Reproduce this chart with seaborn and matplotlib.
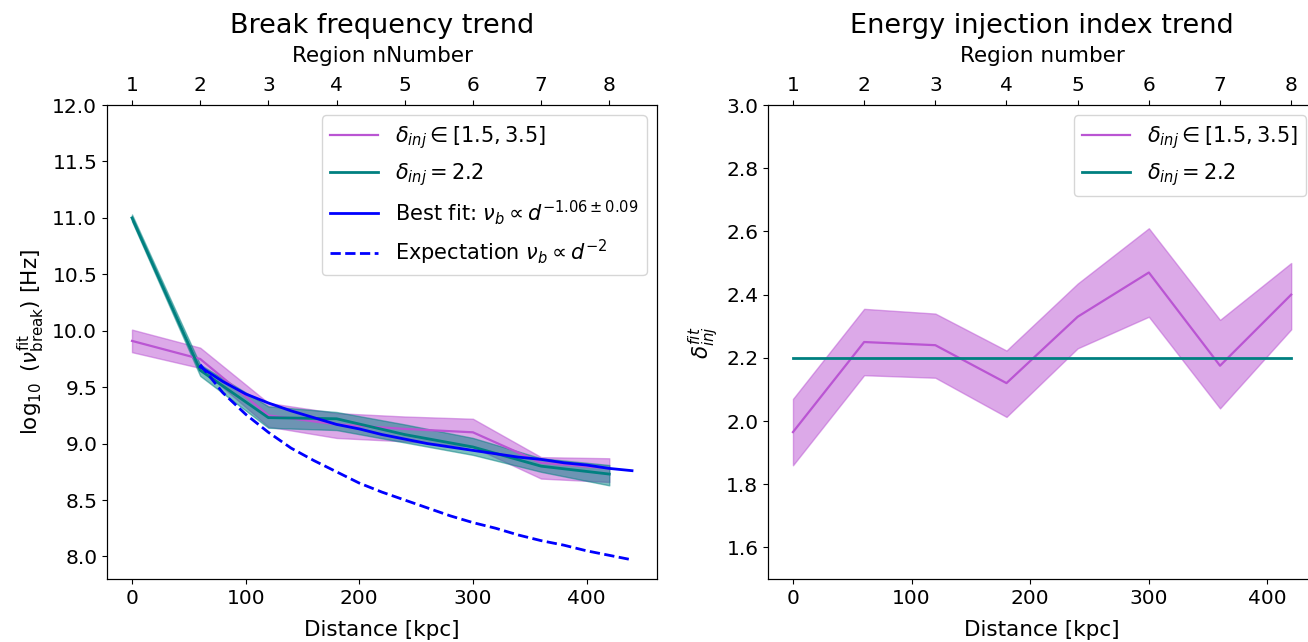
import matplotlib
matplotlib.use("Agg")
import matplotlib.pyplot as plt
import seaborn as sns

# --- data ---
distance = [0, 60, 120, 180, 240, 300, 360, 420]
regions = [1, 2, 3, 4, 5, 6, 7, 8]

# break frequency, delta_inj free in [1.5, 3.5]
nu_free = [9.91, 9.75, 9.25, 9.17, 9.13, 9.10, 8.83, 8.78]
nu_free_lo = [9.81, 9.67, 9.15, 9.05, 9.02, 8.97, 8.69, 8.66]
nu_free_hi = [10.01, 9.85, 9.36, 9.27, 9.24, 9.22, 8.88, 8.87]

# break frequency, delta_inj fixed at 2.2
nu_fixed = [11.00, 9.65, 9.23, 9.22, 9.08, 8.97, 8.80, 8.73]
nu_fixed_lo = [10.97, 9.60, 9.14, 9.12, 9.01, 8.90, 8.75, 8.63]
nu_fixed_hi = [11.03, 9.70, 9.33, 9.28, 9.17, 9.05, 8.87, 8.81]

# best fit and d^-2 expectation curves
fit_dist = [60, 80, 100, 120, 140, 160, 180, 200, 220, 240,
            260, 280, 300, 320, 340, 360, 380, 400, 420, 440]
best_fit = [9.68, 9.55, 9.44, 9.36, 9.29, 9.23, 9.17, 9.13, 9.08, 9.04,
            9.00, 8.97, 8.94, 8.91, 8.88, 8.86, 8.83, 8.81, 8.78, 8.76]
expect = [9.70, 9.45, 9.26, 9.10, 8.96, 8.85, 8.75, 8.65, 8.57, 8.50,
          8.43, 8.36, 8.30, 8.25, 8.19, 8.14, 8.10, 8.05, 8.01, 7.97]

# injection index
delta_free = [1.965, 2.25, 2.24, 2.12, 2.33, 2.47, 2.175, 2.40]
delta_free_lo = [1.86, 2.145, 2.137, 2.013, 2.23, 2.33, 2.04, 2.29]
delta_free_hi = [2.07, 2.355, 2.34, 2.223, 2.435, 2.61, 2.32, 2.50]
delta_fixed = [2.2, 2.2, 2.2, 2.2, 2.2, 2.2, 2.2, 2.2]

lab_free = r'$\delta_{inj} \in [1.5, 3.5]$'
lab_fixed = r'$\delta_{inj} = 2.2$'

purple = 'mediumorchid'
teal = 'teal'

plt.rcParams['font.size'] = 14

fig = plt.figure(figsize=(13.08, 6.42), dpi=100)
ax1 = fig.add_axes([0.0818, 0.0981, 0.4205, 0.7383])
ax2 = fig.add_axes([0.5872, 0.0981, 0.4190, 0.7383])

# --- left: break frequency ---
ax1.fill_between(distance, nu_free_lo, nu_free_hi, color=purple, alpha=0.5)
ax1.fill_between(distance, nu_fixed_lo, nu_fixed_hi, color=teal, alpha=0.5)
sns.lineplot(x=distance, y=nu_free, color=purple, linewidth=1.6,
             label=lab_free, ax=ax1)
sns.lineplot(x=distance, y=nu_fixed, color=teal, linewidth=2,
             label=lab_fixed, ax=ax1)
sns.lineplot(x=fit_dist, y=best_fit, color='blue', linewidth=2,
             label=r'Best fit: $\nu_b \propto d^{-1.06 \pm 0.09}$', ax=ax1)
sns.lineplot(x=fit_dist, y=expect, color='blue', linewidth=2,
             linestyle='--', label=r'Expectation $\nu_b \propto d^{-2}$', ax=ax1)
ax1.set_ylim(7.8, 12.0)
ax1.set_xlabel('Distance [kpc]', fontsize=15.5, labelpad=9)
ax1.set_ylabel(r'$\log_{10}$ ($\nu^{\rm fit}_{\rm break}$) [Hz]', fontsize=15.5)
ax1.legend(loc='upper right', fontsize=15, handlelength=2.3)

# --- right: injection index ---
ax2.fill_between(distance, delta_free_lo, delta_free_hi, color=purple, alpha=0.5)
sns.lineplot(x=distance, y=delta_free, color=purple, linewidth=1.6,
             label=lab_free, ax=ax2)
sns.lineplot(x=distance, y=delta_fixed, color=teal, linewidth=2,
             label=lab_fixed, ax=ax2)
ax2.set_ylim(1.5, 3.0)
ax2.set_xlabel('Distance [kpc]', fontsize=15.5, labelpad=9)
ax2.set_ylabel(r'$\delta^{fit}_{inj}$', fontsize=15.5)
ax2.legend(loc='upper right', fontsize=15, handlelength=2.3)

# top axes with region numbers, aligned with distance
for ax, top_label, title in [(ax1, 'Region nNumber', 'Break frequency trend'),
                             (ax2, 'Region number', 'Energy injection index trend')]:
    ax.tick_params(labelsize=14.5)
    lo, hi = ax.get_xlim()
    top = ax.twiny()
    top.set_xlim(lo / 60 + 1, hi / 60 + 1)
    top.set_xticks(regions)
    top.tick_params(labelsize=14.5)
    top.set_xlabel(top_label, fontsize=15.5, labelpad=10)
    top.set_title(title, fontsize=19.5, pad=10)

fig.savefig('out.png', dpi=100)
